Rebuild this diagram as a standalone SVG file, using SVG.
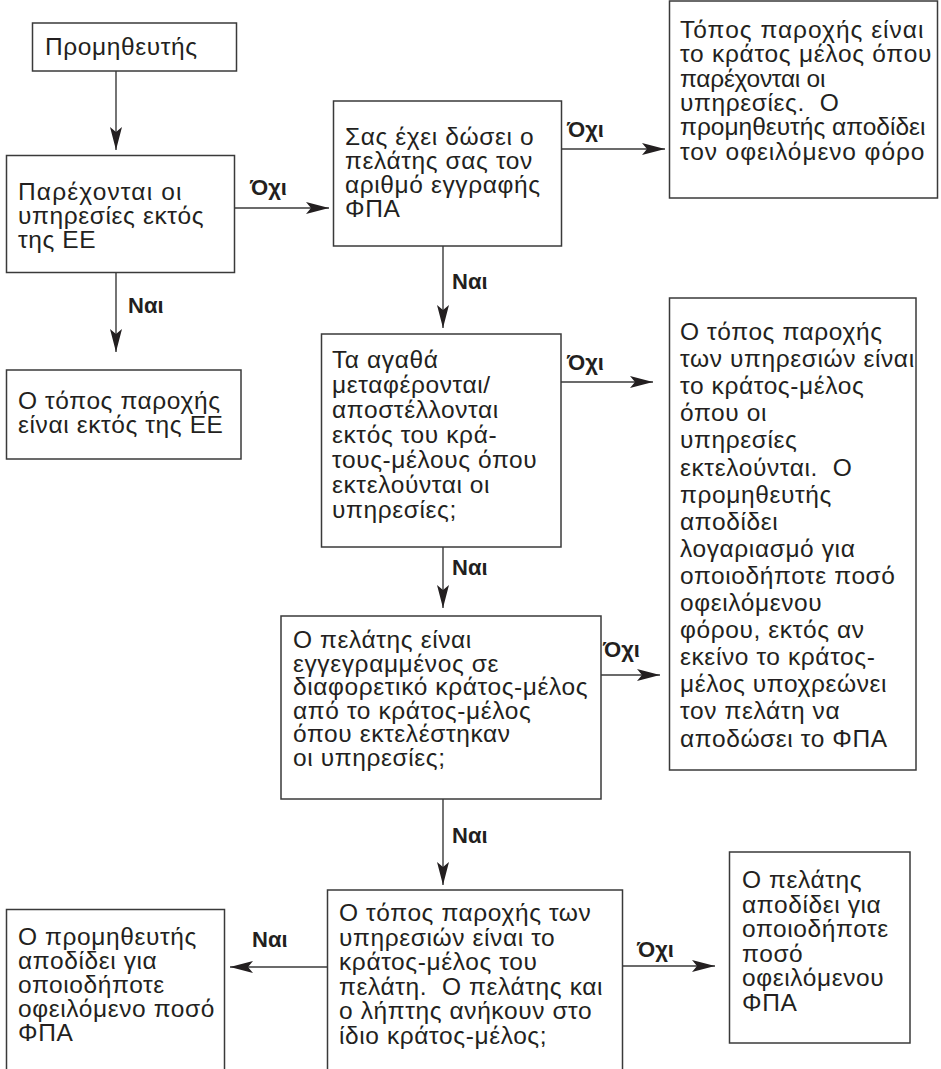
<svg xmlns="http://www.w3.org/2000/svg" width="941" height="1069" viewBox="0 0 941 1069">
<style>
.box{fill:#fff;stroke:#3a3a3a;stroke-width:1.5}
.t{font-family:"Liberation Sans",Arial,sans-serif;font-size:24.5px;fill:#231f20;letter-spacing:0.6px}
.lbl{font-family:"Liberation Sans",Arial,sans-serif;font-size:22px;font-weight:bold;fill:#231f20}
.c{stroke:#3a3a3a;stroke-width:1.4;fill:none;marker-end:url(#ah)}
</style>
<defs>
<marker id="ah" markerUnits="userSpaceOnUse" markerWidth="26" markerHeight="16" viewBox="0 0 26 16" refX="23" refY="8" orient="auto">
<path d="M0,2 L23,8 L0,14 L5,8 Z" fill="#231f20"/>
</marker>
</defs>
<rect width="941" height="1069" fill="#fff"/>
<g id="connectors">
<line class="c" x1="116" y1="71" x2="116" y2="150"/>
<line class="c" x1="234" y1="208" x2="329" y2="208"/>
<line class="c" x1="561" y1="149" x2="665" y2="149"/>
<line class="c" x1="116" y1="272" x2="116" y2="352"/>
<line class="c" x1="443" y1="246" x2="443" y2="328"/>
<line class="c" x1="561" y1="382" x2="653" y2="382"/>
<line class="c" x1="443" y1="547" x2="443" y2="608"/>
<line class="c" x1="601" y1="675" x2="660" y2="675"/>
<line class="c" x1="443" y1="799" x2="443" y2="885"/>
<line class="c" x1="327" y1="967" x2="230" y2="967"/>
<line class="c" x1="623" y1="966" x2="715" y2="966"/>
<text class="lbl" x="250" y="195">Όχι</text>
<text class="lbl" x="567" y="137">Όχι</text>
<text class="lbl" x="128" y="313">Ναι</text>
<text class="lbl" x="452" y="289">Ναι</text>
<text class="lbl" x="567" y="370">Όχι</text>
<text class="lbl" x="452" y="575">Ναι</text>
<text class="lbl" x="603" y="657">Όχι</text>
<text class="lbl" x="452" y="843">Ναι</text>
<text class="lbl" x="252" y="947">Ναι</text>
<text class="lbl" x="637" y="957">Όχι</text>
</g>
<g id="n1">
<rect class="box" x="32.5" y="23" width="204" height="48"/>
<text class="t" x="45" y="55">Προμηθευτής</text>
</g>
<g id="n2">
<rect class="box" x="6.5" y="155.5" width="228" height="117"/>
<text class="t" x="18" y="200" textLength="164" lengthAdjust="spacing">Παρέχονται οι</text>
<text class="t"><tspan x="18" y="224">υπηρεσίες εκτός</tspan><tspan x="18" y="248">της ΕΕ</tspan></text>
</g>
<g id="n3">
<rect class="box" x="333.5" y="101" width="228" height="145"/>
<text class="t"><tspan x="345" y="145">Σας έχει δώσει ο</tspan><tspan x="345" y="169">πελάτης σας τον</tspan><tspan x="345" y="193">αριθμό εγγραφής</tspan><tspan x="345" y="217">ΦΠΑ</tspan></text>
</g>
<g id="n4">
<rect class="box" x="669.5" y="1" width="268" height="197"/>
<text class="t" x="680" y="38" textLength="244" lengthAdjust="spacing">Τόπος παροχής είναι</text>
<text class="t" x="680" y="62.3" textLength="252" lengthAdjust="spacing">το κράτος μέλος όπου</text>
<text class="t" x="680" y="86.6" textLength="146" lengthAdjust="spacing">παρέχονται οι</text>
<text class="t" x="680" y="110.9">υπηρεσίες.&#160; Ο</text>
<text class="t" x="680" y="135.2" textLength="246" lengthAdjust="spacing">προμηθευτής αποδίδει</text>
<text class="t" x="680" y="159.5" textLength="245" lengthAdjust="spacing">τον οφειλόμενο φόρο</text>
</g>
<g id="n5">
<rect class="box" x="6.5" y="370" width="234.5" height="89"/>
<text class="t"><tspan x="18" y="409">Ο τόπος παροχής</tspan><tspan x="18" y="433">είναι εκτός της ΕΕ</tspan></text>
</g>
<g id="n6">
<rect class="box" x="321.5" y="334" width="239.5" height="213"/>
<text class="t"><tspan x="332" y="368">Τα αγαθά</tspan><tspan x="332" y="393">μεταφέρονται/</tspan><tspan x="332" y="418">αποστέλλονται</tspan><tspan x="332" y="443">εκτός του κρά-</tspan><tspan x="332" y="468">τους-μέλους όπου</tspan><tspan x="332" y="493">εκτελούνται οι</tspan><tspan x="332" y="518">υπηρεσίες;</tspan></text>
</g>
<g id="n7">
<rect class="box" x="669.5" y="298" width="246.5" height="472"/>
<text class="t"><tspan x="680" y="340">Ο τόπος παροχής</tspan><tspan x="680" y="367.1">των υπηρεσιών είναι</tspan><tspan x="680" y="394.2">το κράτος-μέλος</tspan><tspan x="680" y="421.3">όπου οι</tspan><tspan x="680" y="448.4">υπηρεσίες</tspan><tspan x="680" y="475.5">εκτελούνται.&#160; Ο</tspan><tspan x="680" y="502.6">προμηθευτής</tspan><tspan x="680" y="529.7">αποδίδει</tspan><tspan x="680" y="556.8">λογαριασμό για</tspan><tspan x="680" y="583.9">οποιοδήποτε ποσό</tspan><tspan x="680" y="611">οφειλόμενου</tspan><tspan x="680" y="638.1">φόρου, εκτός αν</tspan><tspan x="680" y="665.2">εκείνο το κράτος-</tspan><tspan x="680" y="692.3">μέλος υποχρεώνει</tspan><tspan x="680" y="719.4">τον πελάτη να</tspan><tspan x="680" y="746.5">αποδώσει το ΦΠΑ</tspan></text>
</g>
<g id="n8">
<rect class="box" x="281" y="616" width="320" height="183"/>
<text class="t"><tspan x="293" y="648">Ο πελάτης είναι</tspan><tspan x="293" y="671.6">εγγεγραμμένος σε</tspan><tspan x="293" y="695.2">διαφορετικό κράτος-μέλος</tspan><tspan x="293" y="718.8">από το κράτος-μέλος</tspan><tspan x="293" y="742.4">όπου εκτελέστηκαν</tspan><tspan x="293" y="766">οι υπηρεσίες;</tspan></text>
</g>
<g id="n9">
<rect class="box" x="327.5" y="890" width="295" height="190"/>
<text class="t"><tspan x="339" y="921">Ο τόπος παροχής των</tspan><tspan x="339" y="945.5">υπηρεσιών είναι το</tspan><tspan x="339" y="970">κράτος-μέλος του</tspan><tspan x="339" y="994.5">πελάτη.&#160; Ο πελάτης και</tspan><tspan x="339" y="1019">ο λήπτης ανήκουν στο</tspan><tspan x="339" y="1043.5">ίδιο κράτος-μέλος;</tspan></text>
</g>
<g id="n10">
<rect class="box" x="6.5" y="909.5" width="218" height="170"/>
<text class="t"><tspan x="18" y="945">Ο προμηθευτής</tspan><tspan x="18" y="969">αποδίδει για</tspan><tspan x="18" y="993">οποιοδήποτε</tspan><tspan x="18" y="1017">οφειλόμενο ποσό</tspan><tspan x="18" y="1041">ΦΠΑ</tspan></text>
</g>
<g id="n11">
<rect class="box" x="729.5" y="852" width="180.5" height="191"/>
<text class="t"><tspan x="742" y="888">Ο πελάτης</tspan><tspan x="742" y="912.6">αποδίδει για</tspan><tspan x="742" y="937.2">οποιοδήποτε</tspan><tspan x="742" y="961.8">ποσό</tspan><tspan x="742" y="986.4">οφειλόμενου</tspan><tspan x="742" y="1011">ΦΠΑ</tspan></text>
</g>
</svg>
